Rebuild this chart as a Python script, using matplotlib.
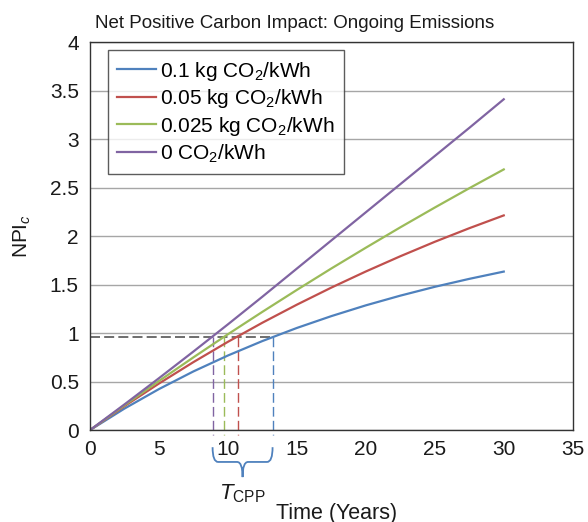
import numpy as np
import matplotlib
matplotlib.use("Agg")
import matplotlib.pyplot as plt
from matplotlib.path import Path
from matplotlib.patches import PathPatch

plt.rcParams['font.family'] = ['Liberation Sans', 'DejaVu Sans']
plt.rcParams['mathtext.fontset'] = 'custom'
plt.rcParams['mathtext.rm'] = 'Liberation Sans'
plt.rcParams['mathtext.it'] = 'Liberation Sans:italic'

# values
years = [0, 2.5, 5, 7.5, 10, 12.5, 15, 17.5, 20, 22.5, 25, 27.5, 30]
npi_01 = [0, 0.222, 0.423, 0.605, 0.769, 0.918, 1.053, 1.175, 1.286, 1.386, 1.477, 1.559, 1.634]
npi_005 = [0, 0.247, 0.480, 0.701, 0.910, 1.107, 1.293, 1.469, 1.635, 1.792, 1.941, 2.081, 2.213]
npi_0025 = [0, 0.256, 0.506, 0.750, 0.988, 1.219, 1.445, 1.666, 1.880, 2.090, 2.294, 2.493, 2.687]
npi_0 = [0, 0.265, 0.535, 0.81, 1.09, 1.375, 1.665, 1.955, 2.245, 2.535, 2.825, 3.115, 3.41]

labels = ['0.1 kg CO$_2$/kWh', '0.05 kg CO$_2$/kWh',
          '0.025 kg CO$_2$/kWh', '0 CO$_2$/kWh']
colors = ['#4F81BD', '#C0504D', '#9BBB59', '#8064A2']

npi_level = 0.96
cross_years = [13.24, 10.7, 9.7, 8.89]  # where each curve reaches npi_level

fig = plt.figure(figsize=(5.88, 5.22), dpi=100)
ax = fig.add_axes([0.153, 0.176, 0.821, 0.7435])

series = [npi_01, npi_005, npi_0025, npi_0]
for vals, lab, c in zip(series, labels, colors):
    ax.plot(years, vals, color=c, lw=1.6, label=lab)

# dashed guide lines
ax.plot([0, max(cross_years)], [npi_level, npi_level], ls=(0, (6, 2.5)),
        color='#555555', lw=1.2, zorder=1)
for xc, c in zip(cross_years, colors):
    ax.plot([xc, xc], [npi_level, -0.05], ls=(0, (7, 3)), color=c, lw=1.0,
            clip_on=False, zorder=1)

ax.set_xlim(0, 35)
ax.set_ylim(0, 4)
ax.set_xticks(np.arange(0, 36, 5))
ax.set_yticks(np.arange(0, 4.01, 0.5))
ax.set_yticklabels(['0', '0.5', '1', '1.5', '2', '2.5', '3', '3.5', '4'])
ax.tick_params(length=0, labelsize=15, colors='#1a1a1a')
ax.tick_params(axis='y', pad=8)
ax.tick_params(axis='x', pad=7)
ax.yaxis.grid(True, color='#a6a6a6', lw=1.0)
ax.set_axisbelow(True)
for s in ax.spines.values():
    s.set_color('#333333')
    s.set_linewidth(1.0)

leg = ax.legend(loc='upper left', bbox_to_anchor=(0.037, 0.979), fontsize=15,
                frameon=True, fancybox=False, edgecolor='#333333',
                handlelength=1.85, handletextpad=0.2, labelspacing=0.22,
                borderpad=0.45, borderaxespad=0)
leg.get_frame().set_linewidth(1.0)

# brace marking T_CPP
x0, x1 = min(cross_years), max(cross_years)
xm = (x0 + x1) / 2
trans = ax.get_xaxis_transform()
yt, yb, ytip = -0.044, -0.082, -0.121
w = 0.4
verts = [(x0, yt), (x0, yb), (x0 + w, yb), (xm - w, yb), (xm, yb), (xm, ytip),
         (xm, yb), (xm + w, yb), (x1 - w, yb), (x1, yb), (x1, yt)]
codes = [Path.MOVETO, Path.CURVE3, Path.CURVE3, Path.LINETO, Path.CURVE3, Path.CURVE3,
         Path.CURVE3, Path.CURVE3, Path.LINETO, Path.CURVE3, Path.CURVE3]
brace = PathPatch(Path(verts, codes), transform=trans, fill=False,
                  edgecolor='#4F81BD', lw=1.3, clip_on=False)
ax.add_patch(brace)
ax.text(xm, -0.163, r'$T_{\rm CPP}$', transform=trans, ha='center', va='center',
        fontsize=16, color='#1a1a1a')

fig.text(337 / 588, 1 - 513 / 522, 'Time (Years)', ha='center', va='center',
         fontsize=15.5, color='#1a1a1a')
fig.text(22 / 588, 1 - 236 / 522, 'NPI$_c$', ha='center', va='center',
         rotation=90, fontsize=15, color='#1a1a1a')
fig.text(295 / 588, 1 - 23 / 522, 'Net Positive Carbon Impact: Ongoing Emissions',
         ha='center', va='center', fontsize=13.5, color='#1a1a1a')

fig.savefig('out.png', dpi=100)
